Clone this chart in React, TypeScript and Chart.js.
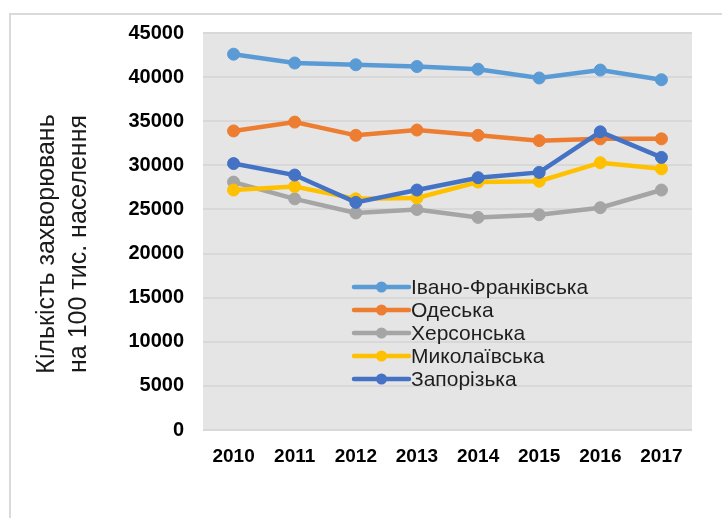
import React, { useEffect, useRef } from 'react';
import { Chart, registerables } from 'chart.js';

Chart.register(...registerables);

const years = ['2010', '2011', '2012', '2013', '2014', '2015', '2016', '2017'];
const seriesNames = ['Івано-Франківська', 'Одеська', 'Херсонська', 'Миколаївська', 'Запорізька'];
const ivanoFrankivsk = [42600, 41600, 41400, 41200, 40900, 39900, 40800, 39700];
const odesa = [33900, 34900, 33400, 34000, 33400, 32800, 33000, 33000];
const kherson = [28100, 26200, 24600, 25000, 24100, 24400, 25200, 27200];
const mykolaiv = [27200, 27600, 26200, 26300, 28100, 28200, 30300, 29600];
const zaporizhzhia = [30200, 28900, 25800, 27200, 28600, 29200, 33800, 30900];
const seriesColors = ['#5B9BD5', '#ED7D31', '#A5A5A5', '#FFC000', '#4472C4'];
const yTitleLines = ['Кількість захворювань', 'на 100 тис. населення'];
const yMin = 0;
const yMax = 45000;
const yStep = 5000;

const FONT = "'Liberation Sans', Arial, sans-serif";

const plotBg = {
  id: 'plotBg',
  beforeDraw(chart: any) {
    const { ctx, chartArea: a } = chart;
    ctx.save();
    ctx.fillStyle = '#e5e5e5';
    ctx.fillRect(a.left, a.top, a.right - a.left, a.bottom - a.top);
    ctx.restore();
  },
};

const innerLegend = {
  id: 'innerLegend',
  afterDraw(chart: any) {
    const { ctx } = chart;
    ctx.save();
    chart.data.datasets.forEach((ds: any, i: number) => {
      const y = 287 + i * 23;
      ctx.strokeStyle = ds.borderColor;
      ctx.lineWidth = 4.5;
      ctx.lineCap = 'round';
      ctx.beginPath();
      ctx.moveTo(354, y);
      ctx.lineTo(409, y);
      ctx.stroke();
      ctx.fillStyle = ds.borderColor;
      ctx.beginPath();
      ctx.arc(381.5, y, 5.5, 0, Math.PI * 2);
      ctx.fill();
      ctx.fillStyle = '#1e1e1e';
      ctx.font = `21px ${FONT}`;
      ctx.textAlign = 'left';
      ctx.textBaseline = 'middle';
      ctx.fillText(ds.label, 411, y + 1);
    });
    ctx.restore();
  },
};

const yTitle = {
  id: 'yTitle',
  afterDraw(chart: any) {
    const { ctx } = chart;
    ctx.save();
    ctx.fillStyle = '#1a1a1a';
    ctx.font = `25px ${FONT}`;
    ctx.textAlign = 'center';
    ctx.textBaseline = 'alphabetic';
    const baselines = [54, 86];
    yTitleLines.forEach((line, i) => {
      ctx.save();
      ctx.translate(baselines[i], 244);
      ctx.rotate(-Math.PI / 2);
      ctx.fillText(line, 0, 0);
      ctx.restore();
    });
    ctx.restore();
  },
};

export default function App() {
  const ref = useRef<HTMLCanvasElement>(null);

  useEffect(() => {
    const seriesValues = [ivanoFrankivsk, odesa, kherson, mykolaiv, zaporizhzhia];
    const chart = new Chart(ref.current as HTMLCanvasElement, {
      type: 'line',
      data: {
        labels: years,
        datasets: seriesValues.map((vals, i) => ({
          label: seriesNames[i],
          data: vals,
          borderColor: seriesColors[i],
          backgroundColor: seriesColors[i],
          pointBackgroundColor: seriesColors[i],
          pointBorderColor: seriesColors[i],
          borderWidth: 4.5,
          pointRadius: 6,
          pointBorderWidth: 1,
          tension: 0,
          fill: false,
          order: seriesValues.length - i,
        })),
      },
      options: {
        responsive: false,
        devicePixelRatio: 1,
        animation: false,
        layout: { padding: { top: 33, right: 30, left: 0, bottom: 0 } },
        plugins: {
          legend: { display: false },
          tooltip: { enabled: false },
        },
        scales: {
          x: {
            type: 'category',
            offset: true,
            grid: { display: false, drawTicks: false },
            border: { display: false },
            ticks: {
              color: '#000',
              font: { family: FONT, size: 19, weight: 'bold' },
              padding: 15,
              maxRotation: 0,
            },
            afterFit: (s: any) => {
              s.height = 88;
            },
          },
          y: {
            min: yMin,
            max: yMax,
            grid: { color: '#d8d8d8', lineWidth: 2, drawTicks: false },
            border: { display: false },
            ticks: {
              stepSize: yStep,
              color: '#000',
              font: { family: FONT, size: 20, weight: 'bold' },
              padding: 19,
              callback: (v: any) => String(v),
            },
            afterFit: (s: any) => {
              s.width = 203;
            },
          },
        },
      },
      plugins: [plotBg, innerLegend, yTitle],
    });
    return () => chart.destroy();
  }, []);

  return (
    <div style={{ position: 'fixed', left: 0, top: 0, right: 0, bottom: 0, overflow: 'hidden', background: '#fff' }}>
      <div
        style={{
          position: 'absolute',
          left: 9,
          top: 13,
          width: 800,
          height: 600,
          borderLeft: '2px solid #dadada',
          borderTop: '2px solid #dadada',
        }}
      />
      <canvas
        ref={ref}
        width={722}
        height={518}
        style={{ position: 'absolute', left: 0, top: 0, width: 722, height: 518 }}
      />
    </div>
  );
}
